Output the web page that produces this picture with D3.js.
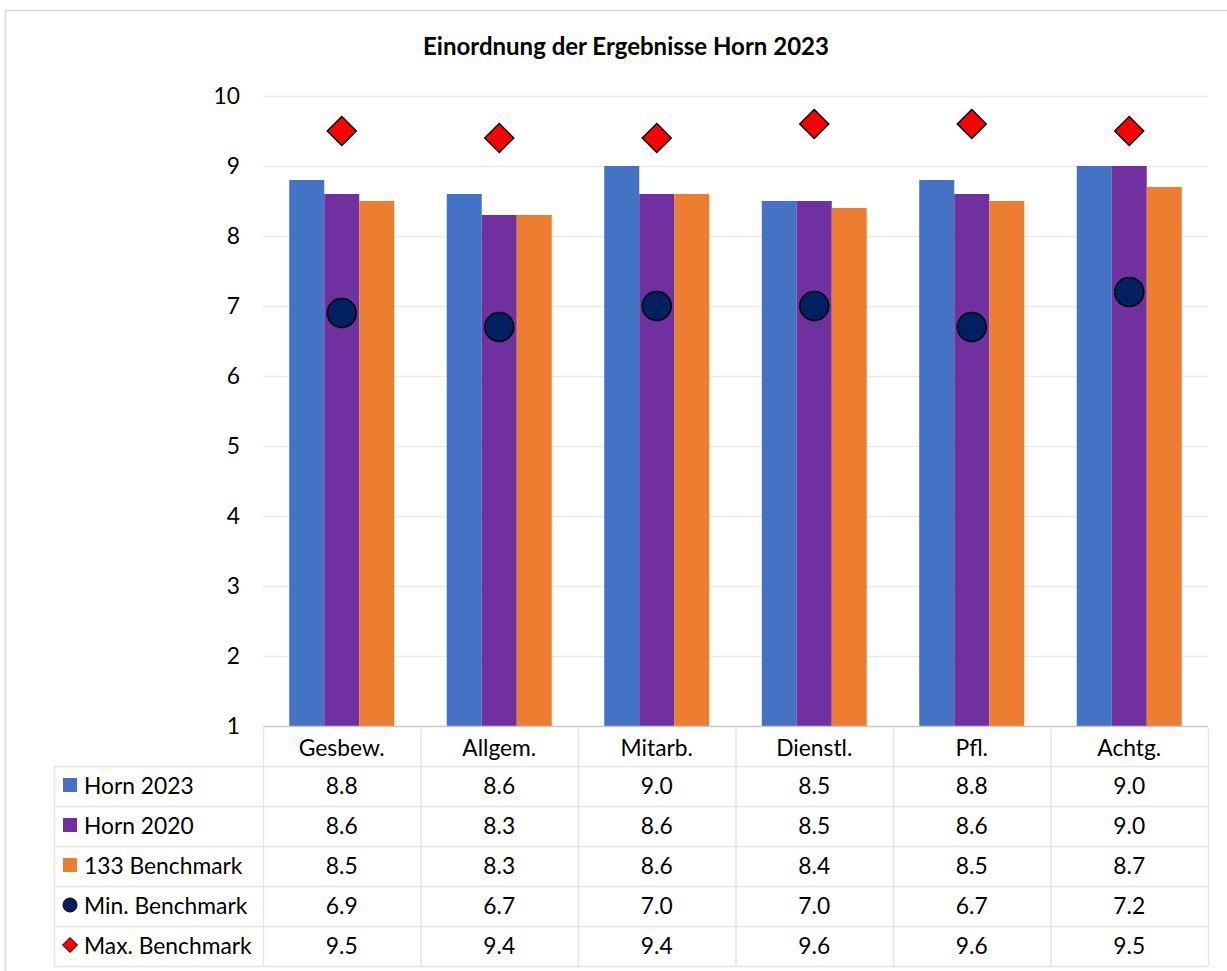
<!DOCTYPE html>
<html>
<head>
<meta charset="utf-8">
<script src="https://cdn.jsdelivr.net/npm/d3@7"></script>
<style>
  html, body { margin: 0; padding: 0; background: #fff; }
  svg { display: block; font-family: Lato, "Open Sans", sans-serif; }
</style>
</head>
<body>
<svg id="chart" width="1227" height="971"></svg>
<script>
// Categories and series
const categories = ["Gesbew.", "Allgem.", "Mitarb.", "Dienstl.", "Pfl.", "Achtg."];
const horn2023 = [8.8, 8.6, 9.0, 8.5, 8.8, 9.0];
const horn2020 = [8.6, 8.3, 8.6, 8.5, 8.6, 9.0];
const bench133 = [8.5, 8.3, 8.6, 8.4, 8.5, 8.7];
const minBench = [6.9, 6.7, 7.0, 7.0, 6.7, 7.2];
const maxBench = [9.5, 9.4, 9.4, 9.6, 9.6, 9.5];
const yTicks = [1, 2, 3, 4, 5, 6, 7, 8, 9, 10];
const title = "Einordnung der Ergebnisse Horn 2023";

const barSeries = [
  { name: "Horn 2023", values: horn2023, color: "#4472C4" },
  { name: "Horn 2020", values: horn2020, color: "#7030A0" },
  { name: "133 Benchmark", values: bench133, color: "#ED7D31" }
];
const tableRows = [
  { name: "Horn 2023", values: horn2023, key: "square", color: "#4472C4" },
  { name: "Horn 2020", values: horn2020, key: "square", color: "#7030A0" },
  { name: "133 Benchmark", values: bench133, key: "square", color: "#ED7D31" },
  { name: "Min. Benchmark", values: minBench, key: "circle", color: "#002060" },
  { name: "Max. Benchmark", values: maxBench, key: "diamond", color: "#FF0000" }
];

const svg = d3.select("#chart");
const plot = { left: 263, right: 1208, top: 96, bottom: 726 };
const rowH = 40;
const headerBottom = 766;
const legendLeft = 54;
const gridColor = "#e9e9e9";
const tableColor = "#e4e4e4";
const fontSize = 22.8;

// Chart border
svg.append("rect")
  .attr("x", 5.5).attr("y", 10.5)
  .attr("width", 1240).attr("height", 1000)
  .attr("fill", "#fff").attr("stroke", "#d9d9d9").attr("stroke-width", 1.5);

// Title
svg.append("text")
  .attr("x", 626).attr("y", 45)
  .attr("text-anchor", "middle").attr("dominant-baseline", "central")
  .attr("font-weight", "bold").attr("font-size", 24).attr("fill", "#000")
  .text(title);

// Scales
const x = d3.scaleBand().domain(categories).range([plot.left, plot.right]).paddingInner(0).paddingOuter(0);
const bandW = x.bandwidth();
const groupW = bandW / 1.5;           // 150% gap width
const x1 = d3.scaleBand().domain(barSeries.map(s => s.name)).range([0, groupW]).padding(0);
const y = d3.scaleLinear().domain([1, 10]).range([plot.bottom, plot.top]);

// Gridlines
svg.append("g").selectAll("line")
  .data(yTicks.filter(t => t > 1))
  .join("line")
  .attr("x1", plot.left).attr("x2", plot.right)
  .attr("y1", d => Math.round(y(d)) + 0.5).attr("y2", d => Math.round(y(d)) + 0.5)
  .attr("stroke", gridColor).attr("stroke-width", 1.5);

// Y axis labels
const yAxis = d3.axisLeft(y).tickValues(yTicks).tickSize(0).tickPadding(0).tickFormat(d3.format("d"));
const yG = svg.append("g").attr("transform", `translate(240,0)`).call(yAxis);
yG.select(".domain").remove();
yG.selectAll("text").attr("font-size", fontSize).attr("font-family", "Lato, sans-serif").attr("fill", "#000").attr("dy", "0.35em");

// Bars
const groups = svg.append("g").selectAll("g")
  .data(categories)
  .join("g")
  .attr("transform", d => `translate(${x(d) + (bandW - groupW) / 2},0)`);
groups.selectAll("rect")
  .data((c, i) => barSeries.map(s => ({ s, v: s.values[i] })))
  .join("rect")
  .attr("x", d => x1(d.s.name))
  .attr("width", x1.bandwidth())
  .attr("y", d => y(d.v))
  .attr("height", d => y(1) - y(d.v))
  .attr("fill", d => d.s.color);

// Axis line at the base
svg.append("line")
  .attr("x1", plot.left).attr("x2", plot.right)
  .attr("y1", plot.bottom + 0.5).attr("y2", plot.bottom + 0.5)
  .attr("stroke", "#c8c8c8").attr("stroke-width", 1.5);

// Min benchmark markers
svg.append("g").selectAll("circle")
  .data(minBench)
  .join("circle")
  .attr("cx", (d, i) => x(categories[i]) + bandW / 2)
  .attr("cy", d => y(d))
  .attr("r", 14.5)
  .attr("fill", "#002060").attr("stroke", "#000").attr("stroke-width", 1.5);

// Max benchmark markers
const diamond = r => `M0,${-r}L${r},0L0,${r}L${-r},0Z`;
svg.append("g").selectAll("path")
  .data(maxBench)
  .join("path")
  .attr("transform", (d, i) => `translate(${x(categories[i]) + bandW / 2},${y(d)})`)
  .attr("d", diamond(14.5))
  .attr("fill", "#FF0000").attr("stroke", "#000").attr("stroke-width", 1.5);

// Data table
const table = svg.append("g");
// horizontal lines
const hLines = d3.range(tableRows.length + 1).map(k => headerBottom + k * rowH);
table.selectAll("line.h")
  .data(hLines)
  .join("line").attr("class", "h")
  .attr("x1", legendLeft).attr("x2", plot.right)
  .attr("y1", d => d + 0.5).attr("y2", d => d + 0.5)
  .attr("stroke", tableColor).attr("stroke-width", 1.5);
// vertical lines in the category columns
const colEdges = categories.map(c => x(c)).concat([plot.right]);
table.selectAll("line.v")
  .data(colEdges)
  .join("line").attr("class", "v")
  .attr("x1", d => d + 0.5).attr("x2", d => d + 0.5)
  .attr("y1", plot.bottom + 3).attr("y2", headerBottom + tableRows.length * rowH)
  .attr("stroke", tableColor).attr("stroke-width", 1.5);
// left edge of legend column
table.append("line")
  .attr("x1", legendLeft + 0.5).attr("x2", legendLeft + 0.5)
  .attr("y1", headerBottom).attr("y2", headerBottom + tableRows.length * rowH)
  .attr("stroke", tableColor).attr("stroke-width", 1.5);

// header labels
table.selectAll("text.cat")
  .data(categories)
  .join("text").attr("class", "cat")
  .attr("x", d => x(d) + bandW / 2)
  .attr("y", (plot.bottom + headerBottom) / 2 + 1)
  .attr("text-anchor", "middle").attr("dominant-baseline", "central")
  .attr("font-size", fontSize).attr("fill", "#000")
  .text(d => d);

const fmt = d3.format(".1f");
const rowsG = table.selectAll("g.row")
  .data(tableRows)
  .join("g").attr("class", "row")
  .attr("transform", (d, k) => `translate(0,${headerBottom + k * rowH + rowH / 2 - 1})`);

rowsG.selectAll("text.val")
  .data(r => r.values)
  .join("text").attr("class", "val")
  .attr("x", (d, i) => x(categories[i]) + bandW / 2)
  .attr("y", 0)
  .attr("text-anchor", "middle").attr("dominant-baseline", "central")
  .attr("font-size", fontSize).attr("fill", "#000")
  .text(d => fmt(d));

rowsG.append("text")
  .attr("x", 84).attr("y", 0)
  .attr("dominant-baseline", "central")
  .attr("font-size", fontSize).attr("fill", "#000")
  .text(r => r.name);

// legend keys
rowsG.each(function (r) {
  const g = d3.select(this);
  if (r.key === "square") {
    g.append("rect").attr("x", 63).attr("y", -7).attr("width", 14).attr("height", 14).attr("fill", r.color);
  } else if (r.key === "circle") {
    g.append("circle").attr("cx", 70).attr("cy", 0).attr("r", 7)
      .attr("fill", r.color).attr("stroke", "#000").attr("stroke-width", 1);
  } else {
    g.append("path").attr("transform", "translate(70,0)").attr("d", diamond(7.5))
      .attr("fill", r.color).attr("stroke", "#000").attr("stroke-width", 1);
  }
});
</script>
</body>
</html>
